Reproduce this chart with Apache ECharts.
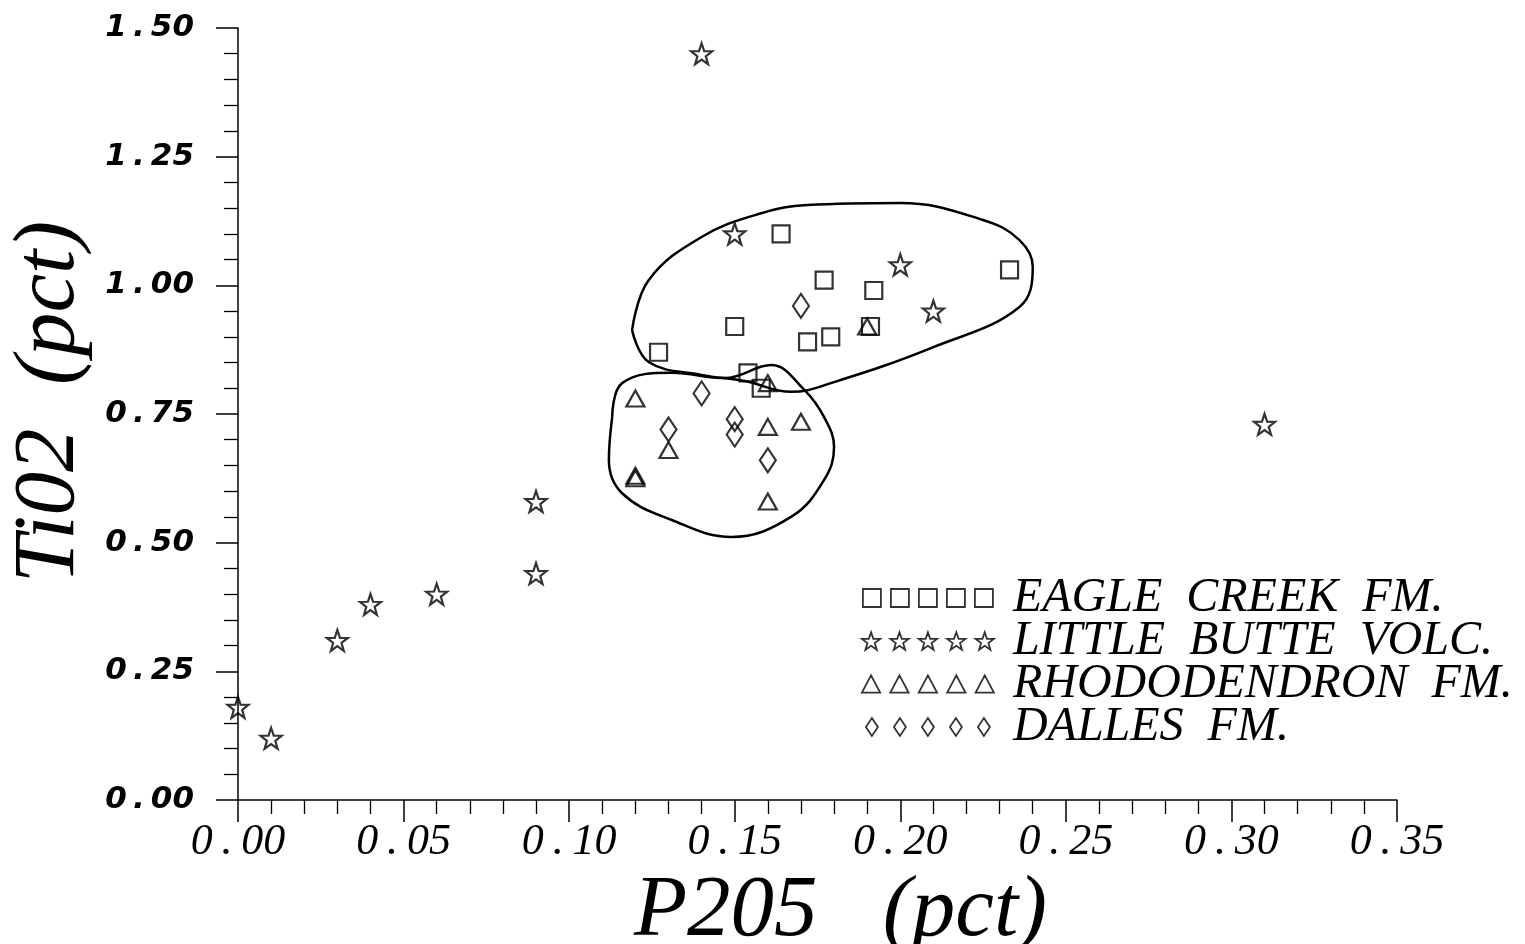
<!DOCTYPE html>
<html>
<head>
<meta charset="utf-8">
<script src="https://cdn.jsdelivr.net/npm/echarts@6/dist/echarts.min.js"></script>
<style>
  html, body { margin: 0; padding: 0; background: #fff; }
  #main { width: 1525px; height: 944px; }
</style>
</head>
<body>
<div id="main"></div>
<script>
// 数据：P2O5 / TiO2 (pct)
const eagleCreek = [[0.164, 1.10], [0.177, 1.01], [0.192, 0.99], [0.233, 1.03], [0.150, 0.92],
  [0.172, 0.89], [0.179, 0.90], [0.191, 0.92], [0.127, 0.87], [0.154, 0.83], [0.158, 0.80]];
const littleButte = [[0.00, 0.18], [0.01, 0.12], [0.03, 0.31], [0.04, 0.38], [0.06, 0.40],
  [0.09, 0.58], [0.09, 0.44], [0.14, 1.45], [0.15, 1.10], [0.20, 1.04], [0.21, 0.95], [0.31, 0.73]];
const rhododendron = [[0.12, 0.78], [0.13, 0.68], [0.12, 0.63], [0.12, 0.625], [0.16, 0.725],
  [0.17, 0.735], [0.16, 0.58], [0.16, 0.81], [0.19, 0.92]];
const dalles = [[0.14, 0.79], [0.13, 0.72], [0.15, 0.74], [0.15, 0.71], [0.16, 0.66], [0.17, 0.96]];

// 手绘的两个包络线
const upperOutline = [[0.119, 0.913], [0.124, 1.010], [0.140, 1.094], [0.158, 1.140], [0.172, 1.156],
  [0.200, 1.160], [0.225, 1.127], [0.236, 1.088], [0.240, 1.036], [0.236, 0.958], [0.210, 0.880],
  [0.180, 0.812], [0.167, 0.793], [0.153, 0.814], [0.140, 0.826], [0.124, 0.851], [0.119, 0.913]];
const lowerOutline = [[0.113, 0.744], [0.116, 0.810], [0.131, 0.830], [0.147, 0.820], [0.161, 0.845],
  [0.171, 0.797], [0.177, 0.744], [0.180, 0.686], [0.177, 0.622], [0.167, 0.550], [0.149, 0.511],
  [0.131, 0.544], [0.116, 0.596], [0.112, 0.661], [0.113, 0.744]];

const seriesNames = ['EAGLE  CREEK  FM.', 'LITTLE  BUTTE  VOLC.', 'RHODODENDRON  FM.', 'DALLES  FM.'];
const xTickLabels = ['0.00', '0.05', '0.10', '0.15', '0.20', '0.25', '0.30', '0.35'];
const yTickLabels = ['0.00', '0.25', '0.50', '0.75', '1.00', '1.25', '1.50'];

// 图例里的五个符号
function starPts(cx, cy, R, r) {
  let s = '';
  for (let i = 0; i < 10; i++) {
    const a = (-90 + i * 36) * Math.PI / 180;
    const rad = i % 2 ? r : R;
    s += (i ? 'L' : 'M') + (cx + rad * Math.cos(a)).toFixed(2) + ',' + (cy + rad * Math.sin(a)).toFixed(2);
  }
  return s + 'Z';
}
function row(fn) {
  let p = '';
  for (let i = 0; i < 5; i++) p += fn(i * 28);
  return 'path://' + p;
}
const iconSquare = row(x => `M${x},0h18v18h-18Z`);
const iconStar = row(x => starPts(x + 9, 9.5, 9.5, 3.8));
const iconTriangle = row(x => `M${x + 9},0L${x + 18},17L${x},17Z`);
const iconDiamond = row(x => `M${x + 9},0L${x + 15},9L${x + 9},18L${x + 3},9Z`);
const starSymbol = 'path://' + starPts(10, 10.5, 10.5, 4.2);

const fmtX = s => s[0] + '\u2009.\u2009' + s.slice(2);
const fmtY = s => s[0] + '\u2009.\u2009' + s.slice(2);

const hollow = { color: 'rgba(0,0,0,0)', borderColor: '#000', borderWidth: 2.2 };
const titleFont = { fontFamily: 'Liberation Serif', fontStyle: 'italic', fontSize: 87, color: '#000' };

const myChart = echarts.init(document.getElementById('main'));
myChart.setOption({
  backgroundColor: '#fff',
  animation: false,
  grid: { left: 238, right: 128, top: 28, bottom: 144, outerBoundsMode: 'none' },
  legend: {
    orient: 'vertical',
    left: 856,
    top: 569,
    itemWidth: 132,
    itemHeight: 18,
    itemGap: -5,
    selectedMode: false,
    itemStyle: { color: 'rgba(0,0,0,0)', borderColor: '#000', borderWidth: 1.8 },
    textStyle: {
      fontFamily: 'Liberation Serif', fontStyle: 'italic', fontSize: 48,
      color: '#000', padding: [0, 0, 0, 14]
    },
    data: [
      { name: seriesNames[0], icon: iconSquare },
      { name: seriesNames[1], icon: iconStar },
      { name: seriesNames[2], icon: iconTriangle },
      { name: seriesNames[3], icon: iconDiamond }
    ]
  },
  xAxis: {
    type: 'value',
    min: 0, max: 0.35, interval: 0.05,
    name: 'P205   (pct)',
    nameLocation: 'middle',
    nameGap: 54,
    nameTextStyle: Object.assign({ padding: [0, 0, 0, 46] }, titleFont),
    axisLine: { show: true, lineStyle: { color: '#000', width: 1.5 } },
    axisTick: { show: true, length: 22, lineStyle: { color: '#000', width: 1.5 } },
    minorTick: { show: true, splitNumber: 5, length: 14, lineStyle: { color: '#000', width: 1.3 } },
    splitLine: { show: false },
    axisLabel: {
      margin: 20, color: '#000', fontFamily: 'Liberation Serif', fontStyle: 'italic', fontSize: 44,
      formatter: (v, i) => fmtX(xTickLabels[i] !== undefined ? xTickLabels[i] : v.toFixed(2))
    }
  },
  yAxis: {
    type: 'value',
    min: 0, max: 1.5, interval: 0.25,
    name: 'Ti02  (pct)',
    nameLocation: 'middle',
    nameGap: 144,
    nameRotate: 90,
    nameTextStyle: Object.assign({ padding: [0, 0, 0, 24] }, titleFont),
    axisLine: { show: true, lineStyle: { color: '#000', width: 1.5 } },
    axisTick: { show: true, length: 22, lineStyle: { color: '#000', width: 1.5 } },
    minorTick: { show: true, splitNumber: 5, length: 14, lineStyle: { color: '#000', width: 1.3 } },
    splitLine: { show: false },
    axisLabel: {
      margin: 44, color: '#000', fontFamily: 'DejaVu Sans', fontStyle: 'italic', fontWeight: 'bold', fontSize: 31,
      formatter: (v, i) => fmtY(yTickLabels[i] !== undefined ? yTickLabels[i] : v.toFixed(2))
    }
  },
  series: [
    { name: seriesNames[0], type: 'scatter', symbol: 'rect', symbolSize: 17, itemStyle: hollow, data: eagleCreek, z: 3 },
    { name: seriesNames[1], type: 'scatter', symbol: starSymbol, symbolSize: 21, itemStyle: hollow, data: littleButte, z: 3 },
    { name: seriesNames[2], type: 'scatter', symbol: 'triangle', symbolSize: [18, 16], itemStyle: hollow, data: rhododendron, z: 3 },
    { name: seriesNames[3], type: 'scatter', symbol: 'diamond', symbolSize: [16, 24], itemStyle: hollow, data: dalles, z: 3 },
    { name: 'upper', type: 'line', data: upperOutline, smooth: 0.4, symbol: 'none', silent: true,
      lineStyle: { color: '#000', width: 2.5 }, z: 2 },
    { name: 'lower', type: 'line', data: lowerOutline, smooth: 0.4, symbol: 'none', silent: true,
      lineStyle: { color: '#000', width: 2.5 }, z: 2 }
  ]
});
window.addEventListener('resize', () => myChart.resize());
</script>
</body>
</html>
